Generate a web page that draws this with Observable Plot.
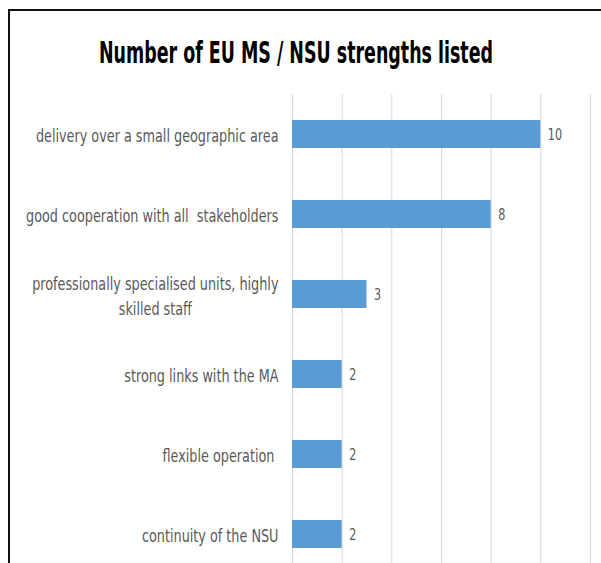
<!DOCTYPE html>
<html>
<head>
<meta charset="utf-8">
<script src="https://cdn.jsdelivr.net/npm/d3@7"></script>
<script src="https://cdn.jsdelivr.net/npm/@observablehq/plot@0.6"></script>
<style>
html, body { margin: 0; padding: 0; overflow: hidden; background: #fff; width: 601px; height: 563px; }
#frame { position: absolute; left: 8px; top: 9px; width: 700px; height: 700px; border-left: 2px solid #111; border-top: 2px solid #111; }
#chart { position: absolute; left: 0; top: 0; }
#title { position: absolute; left: 0; top: 0; }
</style>
</head>
<body>
<div id="frame"></div>
<div id="chart"></div>
<svg id="title" width="601" height="100"></svg>
<script>
const titleText = "Number of EU MS / NSU strengths listed";
const categories = [
  "delivery over a small geographic area",
  "good cooperation with all  stakeholders",
  "professionally specialised units, highly skilled staff",
  "strong links with the MA",
  "flexible operation ",
  "continuity of the NSU"
];
const values = [10, 8, 3, 2, 2, 2];
const gridTicks = [0, 2, 4, 6, 8, 10, 12];

const data = categories.map((c, i) => ({category: c, value: values[i]}));
const FONT = "'Liberation Sans Narrow', 'DejaVu Sans Condensed', 'Liberation Sans', sans-serif";

const chart = Plot.plot({
  width: 601,
  height: 563,
  marginTop: 94,
  marginBottom: 0,
  marginLeft: 292,
  marginRight: 11,
  style: {fontFamily: FONT, background: "transparent", overflow: "hidden"},
  x: {domain: [0, 12], axis: null},
  y: {domain: categories, range: [94, 574], paddingInner: 0.65, paddingOuter: 0.325, label: null},
  marks: [
    Plot.gridX(gridTicks, {stroke: "#d9d9d9", strokeOpacity: 1, strokeWidth: 1}),
    Plot.barX(data, {x: "value", y: "category", fill: "#5b9bd5"}),
    Plot.axisY({
      label: null,
      tickSize: 0,
      tickPadding: 14,
      fontSize: 16,
      fill: "#595959",
      lineHeight: 1.35,
      tickFormat: d => d.replace(", highly ", ", highly\n")
    }),
    Plot.text(data, {
      x: "value", y: "category", text: d => String(d.value),
      dx: 7, textAnchor: "start", fill: "#595959", fontSize: 14
    })
  ]
});

// reshape texts: narrower and taller, as in the reference
const SX = 0.89, SY = 1.15;
chart.querySelectorAll("text").forEach(t => {
  const tr = t.getAttribute("transform");
  if (tr) {
    t.setAttribute("transform", tr + ` scale(${SX},${SY})`);
  } else {
    const x = +t.getAttribute("x") || 0, y = +t.getAttribute("y") || 0;
    t.setAttribute("transform", `translate(${x},${y}) scale(${SX},${SY}) translate(${-x},${-y})`);
  }
});
document.getElementById("chart").appendChild(chart);

// wrapped tick label: lines centred on each other (right edge of the first line kept)
chart.querySelectorAll("text").forEach(t => {
  const spans = t.querySelectorAll("tspan");
  if (spans.length > 1) {
    const w1 = spans[0].getComputedTextLength();
    t.setAttribute("text-anchor", "middle");
    spans.forEach(s => s.setAttribute("x", -w1 / 2));
  }
});

// title
const tsvg = d3.select("#title");
tsvg.append("text")
  .attr("transform", "translate(99,63) scale(1,1.28)")
  .attr("font-family", FONT)
  .attr("font-weight", "bold")
  .attr("font-size", 24)
  .attr("fill", "#000")
  .attr("textLength", 394)
  .attr("lengthAdjust", "spacingAndGlyphs")
  .text(titleText);
</script>
</body>
</html>
